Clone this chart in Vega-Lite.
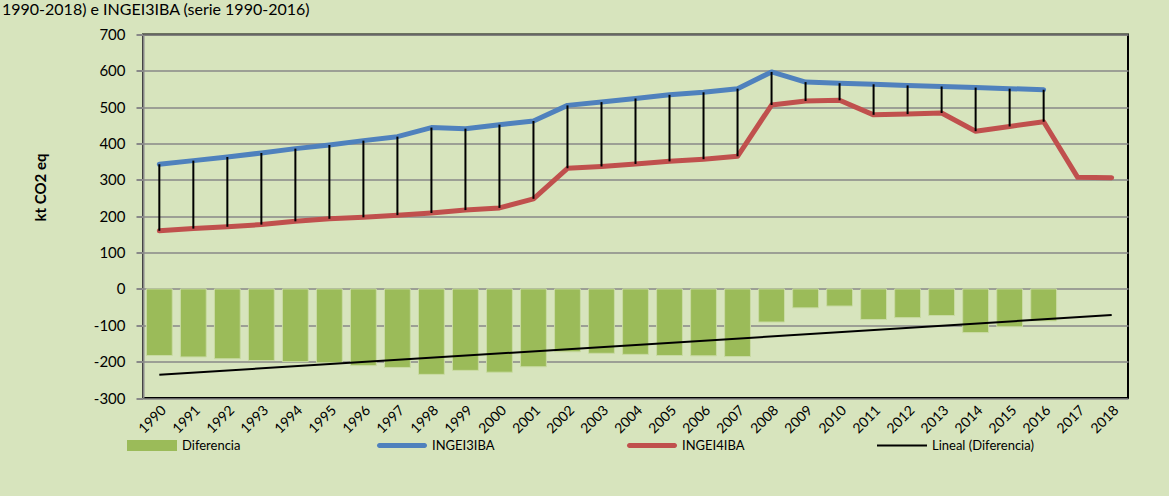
{
  "$schema": "https://vega.github.io/schema/vega-lite/v6.json",
  "autosize": {"type": "none"},
  "width": 985,
  "height": 363.5,
  "padding": {"left": 143, "top": 34.5, "right": 41, "bottom": 98},
  "background": "#D7E4BD",
  "title": {
    "text": "1990-2018) e INGEI3IBA (serie 1990-2016)",
    "anchor": "start",
    "frame": "group",
    "dx": -141,
    "dy": 14,
    "offset": 11,
    "fontSize": 16,
    "font": "Lato",
    "fontWeight": "normal",
    "color": "#000000",
    "baseline": "alphabetic"
  },
  "config": {
    "font": "Lato",
    "view": {"fill": "white", "stroke": "#000000", "strokeWidth": 2},
    "axisY": {
      "labelFontSize": 15,
      "labelColor": "#000000",
      "labelPadding": 11,
      "labelOverlap": false,
      "labelExpr": "'' + datum.value",
      "tickColor": "#888888",
      "tickSize": 7,
      "tickWidth": 2,
      "domainColor": "#888888",
      "domainWidth": 2,
      "gridColor": "#888888",
      "gridWidth": 1.5,
      "titleFontSize": 15,
      "titleFontWeight": "bold",
      "titleColor": "#000000",
      "titleX": -98,
      "titleY": 152.5,
      "titleAngle": -90,
      "titleAlign": "center",
      "titleBaseline": "alphabetic"
    },
    "axisX": {
      "labelFontSize": 14,
      "labelColor": "#000000",
      "labelAngle": -45,
      "labelPadding": 5,
      "ticks": false,
      "domain": false,
      "grid": false,
      "title": null
    }
  },
  "datasets": {
    "serie": [
      {"anio": "1990", "INGEI3IBA": 343, "INGEI4IBA": 160, "Diferencia": -183},
      {"anio": "1991", "INGEI3IBA": 353, "INGEI4IBA": 166, "Diferencia": -187},
      {"anio": "1992", "INGEI3IBA": 363, "INGEI4IBA": 171, "Diferencia": -192},
      {"anio": "1993", "INGEI3IBA": 374, "INGEI4IBA": 177, "Diferencia": -197},
      {"anio": "1994", "INGEI3IBA": 386, "INGEI4IBA": 186, "Diferencia": -200},
      {"anio": "1995", "INGEI3IBA": 396, "INGEI4IBA": 193, "Diferencia": -203},
      {"anio": "1996", "INGEI3IBA": 408, "INGEI4IBA": 197, "Diferencia": -211},
      {"anio": "1997", "INGEI3IBA": 419, "INGEI4IBA": 203, "Diferencia": -216},
      {"anio": "1998", "INGEI3IBA": 444, "INGEI4IBA": 209, "Diferencia": -235},
      {"anio": "1999", "INGEI3IBA": 441, "INGEI4IBA": 217, "Diferencia": -224},
      {"anio": "2000", "INGEI3IBA": 452, "INGEI4IBA": 223, "Diferencia": -229},
      {"anio": "2001", "INGEI3IBA": 462, "INGEI4IBA": 248, "Diferencia": -214},
      {"anio": "2002", "INGEI3IBA": 505, "INGEI4IBA": 332, "Diferencia": -173},
      {"anio": "2003", "INGEI3IBA": 514, "INGEI4IBA": 337, "Diferencia": -177},
      {"anio": "2004", "INGEI3IBA": 524, "INGEI4IBA": 344, "Diferencia": -180},
      {"anio": "2005", "INGEI3IBA": 534, "INGEI4IBA": 351, "Diferencia": -183},
      {"anio": "2006", "INGEI3IBA": 541, "INGEI4IBA": 357, "Diferencia": -184},
      {"anio": "2007", "INGEI3IBA": 551, "INGEI4IBA": 365, "Diferencia": -186},
      {"anio": "2008", "INGEI3IBA": 597, "INGEI4IBA": 506, "Diferencia": -91},
      {"anio": "2009", "INGEI3IBA": 569, "INGEI4IBA": 517, "Diferencia": -52},
      {"anio": "2010", "INGEI3IBA": 566, "INGEI4IBA": 519, "Diferencia": -47},
      {"anio": "2011", "INGEI3IBA": 563, "INGEI4IBA": 479, "Diferencia": -84},
      {"anio": "2012", "INGEI3IBA": 560, "INGEI4IBA": 481, "Diferencia": -79},
      {"anio": "2013", "INGEI3IBA": 557, "INGEI4IBA": 484, "Diferencia": -73},
      {"anio": "2014", "INGEI3IBA": 554, "INGEI4IBA": 434, "Diferencia": -120},
      {"anio": "2015", "INGEI3IBA": 551, "INGEI4IBA": 447, "Diferencia": -104},
      {"anio": "2016", "INGEI3IBA": 548, "INGEI4IBA": 460, "Diferencia": -88},
      {"anio": "2017", "INGEI3IBA": null, "INGEI4IBA": 307, "Diferencia": null},
      {"anio": "2018", "INGEI3IBA": null, "INGEI4IBA": 306, "Diferencia": null}
    ],
    "tendencia": [
      {"anio": "1990", "valor": -236},
      {"anio": "2018", "valor": -72}
    ],
    "leyenda": [
      {"serie": "Diferencia"},
      {"serie": "INGEI3IBA"},
      {"serie": "INGEI4IBA"},
      {"serie": "Lineal (Diferencia)"}
    ]
  },
  "encoding": {
    "x": {
      "field": "anio",
      "type": "ordinal",
      "scale": {"paddingInner": 0.24, "paddingOuter": 0.1},
      "title": null
    }
  },
  "layer": [
    {
      "data": {"name": "serie"},
      "mark": {"type": "bar", "color": "#9BBB59", "stroke": "#C9DBA3", "strokeWidth": 1},
      "encoding": {
        "y": {
          "field": "Diferencia",
          "type": "quantitative",
          "scale": {"domain": [-300, 700], "nice": false, "zero": false},
          "axis": {"values": [-300, -200, -100, 0, 100, 200, 300, 400, 500, 600, 700]},
          "title": "kt CO2 eq"
        }
      }
    },
    {
      "data": {"name": "serie"},
      "mark": {"type": "line", "color": "#C0504D", "strokeWidth": 5, "strokeCap": "round", "strokeJoin": "round"},
      "encoding": {
        "y": {"field": "INGEI4IBA", "type": "quantitative", "title": "kt CO2 eq",
              "axis": {"values": [-300, -200, -100, 0, 100, 200, 300, 400, 500, 600, 700]}}
      }
    },
    {
      "data": {"name": "serie"},
      "mark": {"type": "line", "color": "#4F81BD", "strokeWidth": 5, "strokeCap": "round", "strokeJoin": "round"},
      "encoding": {
        "y": {"field": "INGEI3IBA", "type": "quantitative", "title": "kt CO2 eq",
              "axis": {"values": [-300, -200, -100, 0, 100, 200, 300, 400, 500, 600, 700]}}
      }
    },
    {
      "data": {"name": "serie"},
      "mark": {"type": "rule", "color": "#000000", "strokeWidth": 2},
      "encoding": {
        "y": {"field": "INGEI3IBA", "type": "quantitative", "title": "kt CO2 eq",
              "axis": {"values": [-300, -200, -100, 0, 100, 200, 300, 400, 500, 600, 700]}},
        "y2": {"field": "INGEI4IBA"}
      }
    },
    {
      "data": {"name": "tendencia"},
      "mark": {"type": "line", "color": "#000000", "strokeWidth": 2},
      "encoding": {
        "y": {"field": "valor", "type": "quantitative", "title": "kt CO2 eq",
              "axis": {"values": [-300, -200, -100, 0, 100, 200, 300, 400, 500, 600, 700]}}
      }
    },
    {
      "data": {"name": "leyenda"},
      "mark": {"type": "point", "filled": true, "opacity": 0},
      "encoding": {
        "x": null,
        "color": {
          "field": "serie",
          "type": "nominal",
          "scale": {
            "domain": ["Diferencia", "INGEI3IBA", "INGEI4IBA", "Lineal (Diferencia)"],
            "range": ["#9BBB59", "#4F81BD", "#C0504D", "#000000"]
          },
          "legend": {
            "title": null,
            "orient": "none",
            "legendX": -16,
            "legendY": 386,
            "direction": "horizontal",
            "columns": 4,
            "gridAlign": "all",
            "columnPadding": 93,
            "symbolSize": 2500,
            "symbolStrokeWidth": 0,
            "labelFontSize": 13,
            "labelColor": "#000000",
            "labelOffset": 5,
            "labelLimit": 300,
            "encode": {"symbols": {"update": {"opacity": {"value": 1}}}}
          }
        },
        "shape": {
          "field": "serie",
          "type": "nominal",
          "scale": {
            "domain": ["Diferencia", "INGEI3IBA", "INGEI4IBA", "Lineal (Diferencia)"],
            "range": [
              "M-1,-0.22H1V0.22H-1Z",
              "M-0.9,-0.1H0.9A0.1,0.1 0 0 1 0.9,0.1H-0.9A0.1,0.1 0 0 1 -0.9,-0.1Z",
              "M-0.9,-0.1H0.9A0.1,0.1 0 0 1 0.9,0.1H-0.9A0.1,0.1 0 0 1 -0.9,-0.1Z",
              "M-1,-0.04H1V0.04H-1Z"
            ]
          },
          "legend": {
            "title": null,
            "orient": "none",
            "legendX": -16,
            "legendY": 386,
            "direction": "horizontal",
            "columns": 4,
            "gridAlign": "all",
            "columnPadding": 93,
            "symbolSize": 2500,
            "symbolStrokeWidth": 0,
            "labelFontSize": 13,
            "labelColor": "#000000",
            "labelOffset": 5,
            "labelLimit": 300,
            "encode": {"symbols": {"update": {"opacity": {"value": 1}}}}
          }
        }
      }
    }
  ]
}
